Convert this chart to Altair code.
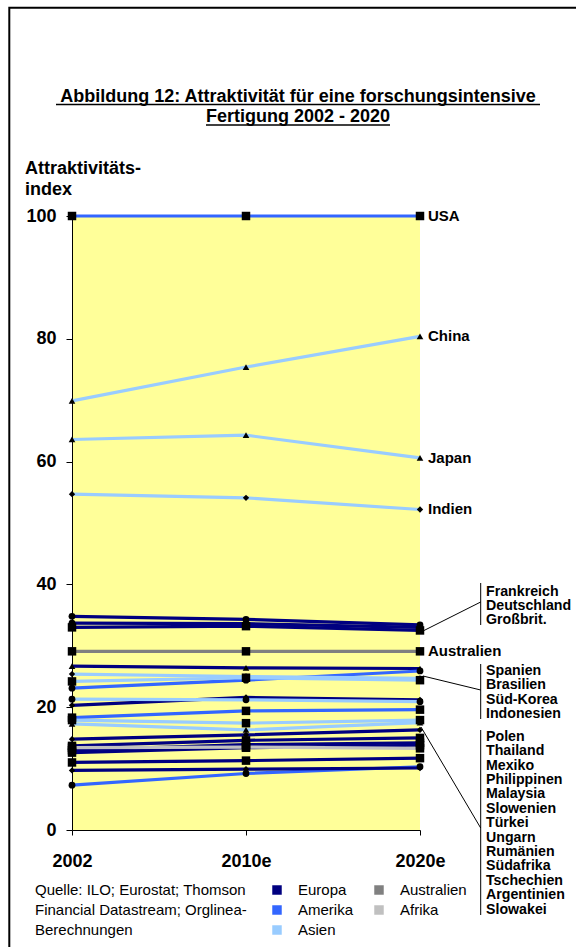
import altair as alt
import pandas as pd

# ---------------- data ----------------
years = ["2002", "2010e", "2020e"]
countries = ["USA", "China", "Japan", "Indien", "Frankreich", "Deutschland", "Großbrit.",
             "Australien", "Spanien", "Brasilien", "Süd-Korea", "Indonesien", "Polen",
             "Thailand", "Mexiko", "Philippinen", "Malaysia", "Slowenien", "Türkei", "Ungarn",
             "Rumänien", "Südafrika", "Tschechien", "Argentinien", "Slowakei"]
regions = ["Amerika", "Asien", "Asien", "Asien", "Europa", "Europa", "Europa",
           "Australien", "Europa", "Amerika", "Asien", "Asien", "Europa",
           "Asien", "Amerika", "Asien", "Asien", "Europa", "Europa", "Europa",
           "Europa", "Afrika", "Europa", "Amerika", "Europa"]
v2002 = [100, 69.9, 63.6, 54.7, 34.8, 33.7, 33.0, 29.1, 26.7, 23.1, 25.4, 24.2, 20.3,
         21.3, 18.3, 17.9, 17.3, 14.8, 13.7, 13.0, 12.6, 13.4, 11.0, 7.3, 9.7]
v2010 = [100, 75.4, 64.3, 54.1, 34.3, 33.6, 33.2, 29.1, 26.4, 24.4, 25.0, 24.8, 21.6,
         21.2, 19.4, 17.4, 16.3, 15.5, 14.6, 13.9, 13.4, 13.5, 11.3, 9.2, 9.9]
v2020 = [100, 80.4, 60.6, 52.2, 33.4, 33.0, 32.5, 29.1, 26.3, 25.9, 24.7, 24.4, 21.2,
         20.9, 19.6, 17.9, 17.5, 16.3, 15.0, 14.2, 13.8, 13.3, 11.7, 10.3, 10.1]
region_names = ["Europa", "Amerika", "Asien", "Australien", "Afrika"]
region_colors = ["#000080", "#3366FF", "#99CCFF", "#808080", "#C0C0C0"]
single_labels = ["USA", "China", "Japan", "Indien", "Australien"]
group1 = ["Frankreich", "Deutschland", "Großbrit."]
group2 = ["Spanien", "Brasilien", "Süd-Korea", "Indonesien"]
group3 = ["Polen", "Thailand", "Mexiko", "Philippinen", "Malaysia", "Slowenien", "Türkei",
          "Ungarn", "Rumänien", "Südafrika", "Tschechien", "Argentinien", "Slowakei"]
title_lines = ["Abbildung 12: Attraktivität für eine forschungsintensive",
               "Fertigung 2002 - 2020"]
ytitle_lines = ["Attraktivitäts-", "index"]
source_lines = ["Quelle: ILO; Eurostat; Thomson", "Financial Datastream; Orglinea-",
                "Berechnungen"]

# marker style per country
marker_shape = {
    "USA": "square", "China": "triangle-up", "Japan": "triangle-up", "Indien": "diamond",
    "Frankreich": "circle", "Deutschland": "circle", "Großbrit.": "square",
    "Australien": "square", "Spanien": "triangle-up", "Brasilien": "circle",
    "Süd-Korea": "diamond", "Indonesien": "square", "Polen": "diamond",
    "Thailand": "circle", "Mexiko": "square", "Philippinen": "square",
    "Malaysia": "triangle-up", "Slowenien": "diamond", "Türkei": "square",
    "Ungarn": "square", "Rumänien": "square", "Südafrika": "square",
    "Tschechien": "square", "Argentinien": "circle", "Slowakei": "diamond",
}
shape_size = {"square": 72, "circle": 46, "triangle-up": 44, "diamond": 40}

rows = []
for c, r, a, b, d in zip(countries, regions, v2002, v2010, v2020):
    for yr, v in zip(years, (a, b, d)):
        rows.append({"country": c, "region": r, "year": yr, "value": v,
                     "marker": marker_shape[c], "msize": shape_size[marker_shape[c]]})
df = pd.DataFrame(rows)
one = pd.DataFrame({"k": [0]})

# ---------------- layout ----------------
FONT = "Liberation Sans"
X0, Y0 = 72, 216
W, H = 348, 614


def px(x):
    return x - X0


def py(y):
    return y - Y0


x_enc = alt.X("year:O", scale=alt.Scale(type="point", domain=years, padding=0),
              axis=alt.Axis(title=None, labelAngle=0, labelFont=FONT, labelFontSize=18,
                            labelFontWeight="bold", labelColor="black", labelPadding=17,
                            tickSize=5, tickColor="black", domainColor="black", grid=False))
y_enc = alt.Y("value:Q", scale=alt.Scale(domain=[0, 100], nice=False),
              axis=alt.Axis(title=None, values=[0, 20, 40, 60, 80, 100], labelFont=FONT,
                            labelFontSize=18, labelFontWeight="bold", labelColor="black",
                            labelPadding=10, tickSize=6, tickColor="black",
                            domainColor="black", grid=False))

layers = []

# frame
layers.append(alt.Chart(one).mark_rect(fillOpacity=0, stroke="black", strokeWidth=2).encode(
    x=alt.value(px(9.3)), x2=alt.value(px(640)), y=alt.value(py(7.7)), y2=alt.value(py(1100))))

base = alt.Chart(df)
layers.append(base.mark_line(strokeWidth=3.2).encode(
    x=x_enc, y=y_enc,
    color=alt.Color("region:N", scale=alt.Scale(domain=region_names, range=region_colors),
                    legend=None),
    detail="country:N"))
layers.append(base.mark_point(filled=True, opacity=1, color="black").encode(
    x=x_enc, y=y_enc,
    shape=alt.Shape("marker:N", scale=None),
    size=alt.Size("msize:Q", scale=None)))

# single end labels
layers.append(alt.Chart(df[(df["year"] == "2020e") & (df["country"].isin(single_labels))])
              .mark_text(align="left", baseline="middle", dx=8, font=FONT, fontSize=15,
                         fontWeight="bold", color="black")
              .encode(x=x_enc, y=y_enc, text="country:N"))


def text_at(x, y, txt, size=15, weight="bold", align="left", baseline="middle", lh=None):
    kw = dict(align=align, baseline=baseline, font=FONT, fontSize=size,
              fontWeight=weight, color="black")
    if lh is not None:
        kw["lineBreak"] = "\n"
        kw["lineHeight"] = lh
    return alt.Chart(one).mark_text(**kw).encode(
        x=alt.value(px(x)), y=alt.value(py(y)), text=alt.value(txt))


def seg(x1, y1, x2, y2, w=1.0):
    return alt.Chart(one).mark_rule(color="black", strokeWidth=w).encode(
        x=alt.value(px(x1)), y=alt.value(py(y1)), x2=alt.value(px(x2)), y2=alt.value(py(y2)))


# grouped labels with brackets and leader lines
LH = 14.4
GF = 14.2
layers.append(text_at(486, 590.7 - 6.2, "\n".join(group1), size=GF, baseline="top", lh=LH))
layers.append(text_at(486, 670 - 6.2, "\n".join(group2), size=GF, baseline="top", lh=LH))
layers.append(text_at(486, 736 - 6.2, "\n".join(group3), size=GF, baseline="top", lh=LH))
layers.append(seg(480.7, 583, 480.7, 625))
layers.append(seg(480.7, 664, 480.7, 719))
layers.append(seg(480.7, 730, 480.7, 915))
layers.append(seg(423, 631, 480.7, 602))
layers.append(seg(423, 676, 480.7, 690))
layers.append(seg(421, 727, 480.7, 828))

# title with underline
layers.append(text_at(298, 96.5, title_lines[0], size=18, align="center"))
layers.append(text_at(298, 117, title_lines[1], size=18, align="center"))
layers.append(seg(56, 104.5, 540, 104.5, 1.5))
layers.append(seg(206, 125, 390, 125, 1.5))

# y axis title
layers.append(text_at(25, 168.5, ytitle_lines[0], size=18))
layers.append(text_at(25, 189.5, ytitle_lines[1], size=18))

# source
for i, s in enumerate(source_lines):
    layers.append(text_at(35, 890 + 20 * i, s, weight="normal"))

# legend
legend_pos = {"Europa": (277, 890), "Amerika": (277, 910), "Asien": (277, 930),
              "Australien": (379, 890), "Afrika": (379, 910)}
for name, col in zip(region_names, region_colors):
    lx, ly = legend_pos[name]
    layers.append(alt.Chart(one).mark_square(size=90, color=col, opacity=1).encode(
        x=alt.value(px(lx)), y=alt.value(py(ly))))
    layers.append(text_at(lx + 21, ly, name, weight="normal"))

chart = alt.layer(*layers).properties(
    width=W, height=H,
    padding={"left": X0, "top": Y0, "right": 576 - X0 - W, "bottom": 947 - Y0 - H},
    autosize=alt.AutoSizeParams(type="none"),
    background="white",
).configure_view(fill="#FFFF99", strokeWidth=0)

chart.save("out.html", embed_options={"renderer": "svg", "actions": False})
